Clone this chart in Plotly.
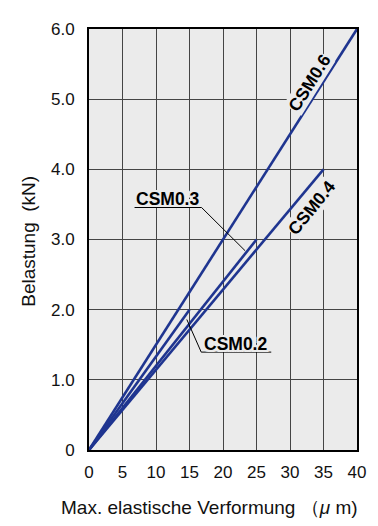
import plotly.graph_objects as go

# Data
series_names = ["CSM0.6", "CSM0.4", "CSM0.3", "CSM0.2"]
x_end = [40, 35, 25, 15]          # max elastic deformation (µm)
y_end = [6.0, 4.0, 3.0, 2.0]      # load (kN)
x_ticks = [0, 5, 10, 15, 20, 25, 30, 35, 40]
y_ticks = [0, 1, 2, 3, 4, 5, 6]
y_tick_labels = ["0", "1.0", "2.0", "3.0", "4.0", "5.0", "6.0"]

LINE_COLOR = "#1f3590"
PLOT_BG = "#ebebeb"
FONT = "Arial, Liberation Sans, sans-serif"

fig = go.Figure()
for name, xe, ye in zip(series_names, x_end, y_end):
    fig.add_trace(go.Scatter(x=[0, xe], y=[0, ye], mode="lines", name=name,
                             line=dict(color=LINE_COLOR, width=2.6),
                             showlegend=False, hoverinfo="skip"))

lab_font = dict(family=FONT, size=17.5, color="black")
halo = ("2px 0 0 #ebebeb, -2px 0 0 #ebebeb, 0 2px 0 #ebebeb, 0 -2px 0 #ebebeb, "
        "2px 2px 0 #ebebeb, -2px -2px 0 #ebebeb, 2px -2px 0 #ebebeb, -2px 2px 0 #ebebeb")
lab_font_halo = dict(family=FONT, size=17.5, color="black", shadow=halo)

annotations = [
    dict(x=32.9, y=5.23, text="<b>CSM0.6</b>", textangle=-58, showarrow=False,
         font=lab_font, bgcolor=PLOT_BG, borderpad=0),
    dict(x=33.2, y=3.45, text="<b>CSM0.4</b>", textangle=-51, showarrow=False,
         font=lab_font, bgcolor=PLOT_BG, borderpad=0),
    dict(x=11.7, y=3.58, text="<b>CSM0.3</b>", showarrow=False, font=lab_font_halo),
    dict(x=21.9, y=1.51, text="<b>CSM0.2</b>", showarrow=False, font=lab_font_halo),
    # axis titles
    dict(xref="paper", yref="paper", x=0.45, y=-0.136, xanchor="center", yanchor="middle",
         text="Max. elastische Verformung （<i>μ</i> m)", showarrow=False,
         font=dict(family=FONT, size=19, color="#111111")),
    dict(xref="paper", yref="paper", x=-0.227, y=0.495, xanchor="center", yanchor="middle",
         text="Belastung  (kN)", textangle=-90, showarrow=False,
         font=dict(family=FONT, size=19, color="#111111")),
]

shapes = [
    # CSM0.3 underline + leader
    dict(type="line", x0=6.8, y0=3.456, x1=16.8, y1=3.456, line=dict(color="black", width=1)),
    dict(type="line", x0=16.8, y0=3.456, x1=23.3, y1=2.84, line=dict(color="black", width=1)),
    # CSM0.2 underline + leader
    dict(type="line", x0=16.75, y0=1.395, x1=27.2, y1=1.395, line=dict(color="black", width=1)),
    dict(type="line", x0=16.75, y0=1.395, x1=14.6, y1=1.86, line=dict(color="black", width=1)),
]

fig.update_layout(
    width=370, height=518,
    margin=dict(l=81, r=20, t=12, b=76),
    paper_bgcolor="white", plot_bgcolor=PLOT_BG,
    font=dict(family=FONT, size=17, color="#111111"),
    annotations=annotations, shapes=shapes,
    xaxis=dict(range=[0, 40], tickvals=x_ticks, ticks="", showgrid=True,
               gridcolor="#444444", gridwidth=1.2, zeroline=False,
               showline=True, linecolor="black", linewidth=2, mirror=True,
               ticklabelstandoff=6),
    yaxis=dict(range=[0, 6], tickvals=y_ticks, ticktext=y_tick_labels, ticks="",
               showgrid=True, gridcolor="#444444", gridwidth=1.2, zeroline=False,
               showline=True, linecolor="black", linewidth=2, mirror=True,
               ticklabelstandoff=9),
)

fig.write_html("out.html")
